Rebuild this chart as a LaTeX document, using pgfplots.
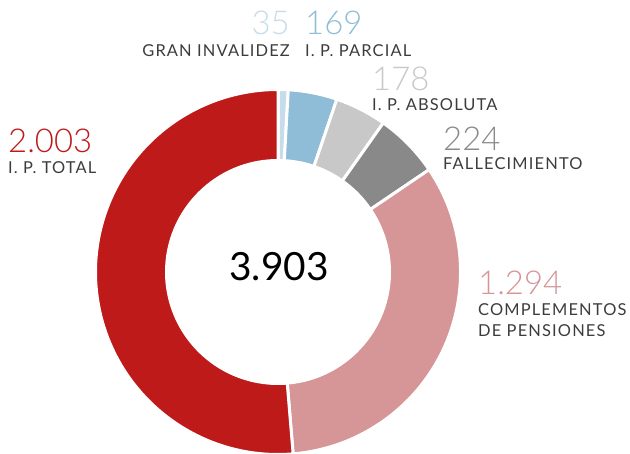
\documentclass[border=0pt]{standalone}
\usepackage{fontspec}
\setmainfont{Lato}
\newfontfamily\labfont{Lato}[LetterSpace=7]
\newfontfamily\numfont{Lato Light}
\usepackage{pgfplots}
\usepackage{pgfplotstable}
\pgfplotsset{compat=1.18}
\definecolor{cGI}{HTML}{C6DCEA}
\definecolor{cPP}{HTML}{8FBCD6}
\definecolor{cPA}{HTML}{C8C8C8}
\definecolor{cFA}{HTML}{898989}
\definecolor{cCP}{HTML}{D69596}
\definecolor{cPT}{HTML}{BE1A1A}
\definecolor{txt}{HTML}{3C3C3C}
\tikzset{
  lbl/.style={font=\labfont\fontsize{16.5}{18}\selectfont, text=txt, inner sep=0pt, anchor=base west},
  num/.style={font=\numfont\fontsize{33}{36}\selectfont, inner sep=0pt, anchor=base west}}

% slices clockwise from 12 o'clock
\pgfplotstableread{
value col
35    cGI
169   cPP
178   cPA
224   cFA
1294  cCP
2003  cPT
}\slices

\begin{document}
\begin{tikzpicture}
\begin{axis}[x=1bp, y=1bp, scale only axis, xmin=0, xmax=630, ymin=0, ymax=454, hide axis]
\path (rel axis cs:0,0) rectangle (rel axis cs:1,1);
\pgfplotstablegetrowsof{\slices}
\pgfmathtruncatemacro\nrows{\pgfplotsretval-1}
\def\total{0}
\pgfplotsforeachungrouped \i in {0,...,\nrows}{%
  \pgfplotstablegetelem{\i}{value}\of\slices
  \pgfmathsetmacro\total{\total+\pgfplotsretval}}
\def\cum{0}
\pgfplotsforeachungrouped \i in {0,...,\nrows}{%
  \pgfplotstablegetelem{\i}{value}\of\slices\let\val\pgfplotsretval
  \pgfplotstablegetelem{\i}{col}\of\slices\let\col\pgfplotsretval
  \pgfmathsetmacro\angA{90-\cum/\total*360}
  \pgfmathsetmacro\cum{\cum+\val}
  \pgfmathsetmacro\angB{90-\cum/\total*360}
  \edef\temp{\noexpand\fill[\col, draw=white, line width=3bp]
    ([shift={(\angA:182.5bp)}]axis cs:278,182) arc[start angle=\angA, end angle=\angB, radius=182.5bp]
    -- ([shift={(\angB:111.5bp)}]axis cs:278,182) arc[start angle=\angB, end angle=\angA, radius=111.5bp] -- cycle;}
  \temp
}
\node[font=\fontsize{39}{42}\selectfont, inner sep=0pt, anchor=base] at (axis cs:279,173) {3.903};

\node[num, text=cGI, anchor=base east] at (axis cs:290,419) {35};
\node[num, text=cPP] at (axis cs:305,419) {169};
\node[lbl, anchor=base east] at (axis cs:290,397) {GRAN INVALIDEZ};
\node[lbl] at (axis cs:305,397) {I. P. PARCIAL};
\node[num, text=cPA] at (axis cs:372,363) {178};
\node[lbl] at (axis cs:372,343) {I. P. ABSOLUTA};
\node[num, text=cFA] at (axis cs:443,303) {224};
\node[lbl] at (axis cs:443,284) {FALLECIMIENTO};
\node[num, text=cPT] at (axis cs:8,301) {2.003};
\node[lbl] at (axis cs:8,280) {I. P. TOTAL};
\node[num, text=cCP] at (axis cs:478,159) {1.294};
\node[lbl] at (axis cs:478,138) {COMPLEMENTOS};
\node[lbl] at (axis cs:478,117) {DE PENSIONES};
\end{axis}
\end{tikzpicture}
\end{document}
